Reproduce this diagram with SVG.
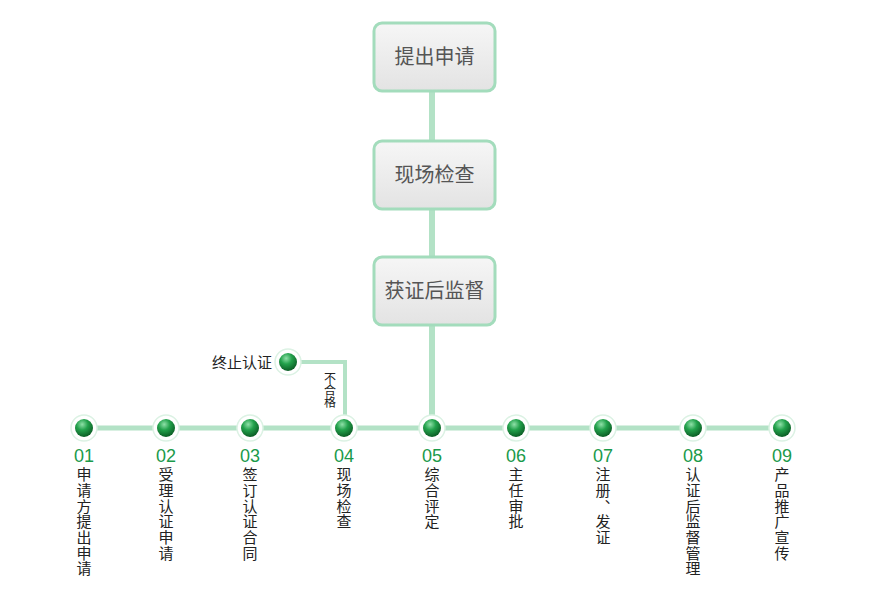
<svg xmlns="http://www.w3.org/2000/svg" width="880" height="612" viewBox="0 0 880 612">
<defs>
<linearGradient id="boxg" x1="0" y1="0" x2="0" y2="1">
<stop offset="0" stop-color="#f6f6f6"/>
<stop offset="1" stop-color="#e3e3e3"/>
</linearGradient>
<radialGradient id="ballg" cx="0.4" cy="0.3" r="0.7">
<stop offset="0" stop-color="#8fe0a8"/>
<stop offset="0.45" stop-color="#23a24c"/>
<stop offset="1" stop-color="#0b5e25"/>
</radialGradient>
<g id="ball">
<circle r="13" fill="#ffffff" stroke="#dcf2e4" stroke-width="1.5"/>
<circle r="9" fill="url(#ballg)"/>
</g>
</defs>
<style>
.box{fill:url(#boxg);stroke:#a3dcbc;stroke-width:3}
.bt{font-family:"Microsoft YaHei","Noto Sans CJK SC",sans-serif;font-size:20px;fill:#555;text-anchor:middle}
.conn{stroke:#b3e2c6;fill:none}
.num{font-family:"Liberation Sans","Noto Sans",sans-serif;font-size:18px;fill:#1a9a4a;text-anchor:middle}
.vt{font-family:"Noto Sans CJK SC",sans-serif;font-size:15px;letter-spacing:0.7px;fill:#222;writing-mode:vertical-rl}
.st{font-family:"Noto Sans CJK SC",sans-serif;font-size:15px;fill:#222}
.sm{font-family:"Noto Sans CJK SC",sans-serif;font-size:12px;fill:#222;writing-mode:vertical-rl}
</style>
<rect width="880" height="612" fill="#ffffff"/>
<g id="connectors">
<line class="conn" x1="432" y1="91" x2="432" y2="428" stroke-width="6"/>
<line class="conn" x1="84" y1="428" x2="782" y2="428" stroke-width="5"/>
<polyline class="conn" points="288,362 345,362 345,428" stroke-width="4"/>
</g>
<g id="box1"><rect class="box" x="374" y="23" width="121" height="68" rx="8"/><text class="bt" x="434.5" y="64">提出申请</text></g>
<g id="box2"><rect class="box" x="374" y="141" width="121" height="68" rx="8"/><text class="bt" x="434.5" y="182">现场检查</text></g>
<g id="box3"><rect class="box" x="374" y="257" width="121" height="68" rx="8"/><text class="bt" x="434.5" y="298">获证后监督</text></g>
<g id="stop"><use href="#ball" x="288" y="362"/><text class="st" x="272" y="368" text-anchor="end">终止认证</text><text class="sm" x="330" y="372">不合格</text></g>
<g id="n01"><use href="#ball" x="84" y="428"/><text class="num" x="84" y="462">01</text><text class="vt" x="84" y="467">申请方提出申请</text></g>
<g id="n02"><use href="#ball" x="166" y="428"/><text class="num" x="166" y="462">02</text><text class="vt" x="166" y="467">受理认证申请</text></g>
<g id="n03"><use href="#ball" x="250" y="428"/><text class="num" x="250" y="462">03</text><text class="vt" x="250" y="467">签订认证合同</text></g>
<g id="n04"><use href="#ball" x="344" y="428"/><text class="num" x="344" y="462">04</text><text class="vt" x="344" y="467">现场检查</text></g>
<g id="n05"><use href="#ball" x="432" y="428"/><text class="num" x="432" y="462">05</text><text class="vt" x="432" y="467">综合评定</text></g>
<g id="n06"><use href="#ball" x="516" y="428"/><text class="num" x="516" y="462">06</text><text class="vt" x="516" y="467">主任审批</text></g>
<g id="n07"><use href="#ball" x="603" y="428"/><text class="num" x="603" y="462">07</text><text class="vt" x="603" y="467">注册、发证</text></g>
<g id="n08"><use href="#ball" x="693" y="428"/><text class="num" x="693" y="462">08</text><text class="vt" x="693" y="467">认证后监督管理</text></g>
<g id="n09"><use href="#ball" x="782" y="428"/><text class="num" x="782" y="462">09</text><text class="vt" x="782" y="467">产品推广宣传</text></g>
</svg>
